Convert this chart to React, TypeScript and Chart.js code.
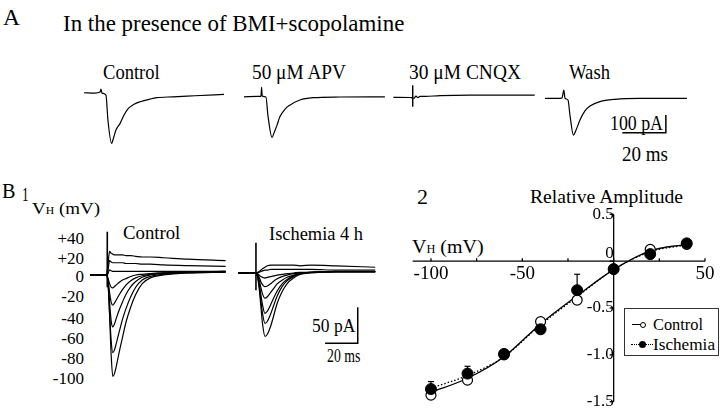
import React, { useEffect, useLayoutEffect, useRef } from 'react';
import { Chart, registerables } from 'chart.js';

Chart.register(...registerables);

const FONT = "'Liberation Serif', 'DejaVu Serif', serif";

// ---------------- Panel A data (time in ms from trace start, current in pA) ----------------
const ctrlA_t = [0, 5, 7.4, 7.8, 8.3, 10.1, 11.0, 12.7, 13.3, 14.7, 16.6, 18.4, 20.4, 23, 25.8, 30.3, 33.5, 40.9, 51, 64.4];
const ctrlA_i = [13, 11, 17, 34, 11, 0, -141, -273, -254, -198, -160, -113, -75, -52, -38, -23, -15, -10, -4, 4];
const apvA_t = [0, 6.4, 7.8, 8.1, 8.4, 10.1, 11.0, 12.9, 13.8, 15.2, 16.5, 18.9, 21.1, 25.7, 31.7, 44.1, 64.8];
const apvA_i = [-10, -8, -8, 44, -6, -11, -113, -239, -215, -170, -123, -79, -57, -28, -15, -11, -10];
const cnqxA_t = [0, 7.7, 9.5, 10.4, 11.3, 12.3, 14.6, 21.4, 35.3, 65];
const cnqxA_i = [-13, -14, -17, -6, -14, -8, -8, -3, 0, 0];
const cnqxArtifact_t = 8.9;
const cnqxArtifact_i = [56, -66];
const washA_t = [0, 7.8, 8.7, 9.2, 10.6, 11.5, 13.1, 14.3, 16.1, 18.4, 20.7, 25.3, 32.2, 43.7, 65.3];
const washA_i = [-19, -17, 28, -17, -28, -113, -226, -198, -141, -90, -62, -37, -24, -19, -19];
const traceStartA = [1.84, 75.4, 144.1, 213.8]; // ms along panel A
const scaleBarA = { t: 249.4, i: -212.8, dt: 20, di: 100 }; // 20 ms, 100 pA

// ---------------- Panel B1 data ----------------
const b1CtrlT = [0, 10, 11, 12, 13, 14, 15, 16, 18, 20, 22, 25, 28, 32, 37, 45, 60, 83];
const b1CtrlP40 = [0, 0, 14, 33, 30, 29, 28, 28, 28, 28, 27, 27, 26, 25, 25, 24, 22, 20];
const b1CtrlP20 = [0, 0, 6, 20, 18, 17, 17, 17, 17, 17, 16, 16, 16, 15, 15, 14, 13, 12];
const b1Ctrl0 = [0, 0, 2, 7, 6, 5, 5, 5, 5, 5, 5, 5, 5, 5, 5, 5, 5, 5];
const b1CtrlM20 = [0, 0, -4, -12, -17, -18, -16, -14, -10, -7, -5, -2, 0, 1, 2, 3, 4, 4];
const b1CtrlM40 = [0, 0, -6, -24, -38, -42, -39, -35, -27, -20, -14, -8, -4, -1, 1, 3, 4, 5];
const b1CtrlM60 = [0, 0, -8, -38, -64, -72, -68, -61, -48, -37, -27, -16, -9, -3, 0, 2, 4, 5];
const b1CtrlM80 = [0, 0, -10, -52, -92, -108, -104, -96, -78, -61, -47, -30, -17, -7, -2, 1, 3, 4];
const b1CtrlM100 = [0, 0, -8, -55, -112, -141, -137, -128, -106, -86, -66, -44, -27, -12, -4, 0, 3, 4];
const b1CtrlArtifact = { t: 10.6, top: 60, bottom: -17 };

const b1IschT = [0, 11, 12, 13, 14, 15, 16.5, 18, 20, 22, 24, 27, 30, 34, 38, 45, 60, 84];
const b1IschP40 = [0, 0, 1, 2, 4, 6, 8, 10, 11, 11, 11, 11, 11, 11, 10, 11, 10, 8];
const b1IschP20 = [0, 0, 0, 1, 2, 3, 4, 4, 5, 5, 5, 5, 5, 5, 5, 5, 4, 4];
const b1Isch0 = [0, 0, -1, -3, -5, -6, -7, -6, -5, -4, -3, -2, -1, 0, 1, 1, 2, 2];
const b1IschM20 = [0, 0, -2, -6, -12, -16, -19, -18, -15, -11, -8, -5, -3, -1, 0, 1, 2, 2];
const b1IschM40 = [0, 0, -3, -10, -20, -29, -35, -33, -27, -21, -15, -10, -6, -3, -1, 1, 2, 2];
const b1IschM60 = [0, 0, -4, -14, -30, -44, -56, -53, -44, -34, -25, -15, -9, -4, -1, 1, 2, 2];
const b1IschM80 = [0, 0, -5, -18, -38, -56, -70, -67, -57, -44, -32, -19, -11, -5, -1, 1, 2, 2];
const b1IschM100 = [0, 0, -6, -22, -46, -70, -88, -85, -74, -58, -42, -26, -15, -7, -2, 0, 2, 2];
const b1IschArtifact = { t: 11.0, top: 42, bottom: -24 };
const b1Start = { control: 1.2, ischemia: 91.8 }; // ms along panel B1
const b1IschBaseline = 2.8; // pA
const scaleBarB1 = { t: 145.1, i: -94.9, dt: 20, di: 50 }; // 20 ms, 50 pA
const b1VhLabels = ['+40', '+20', '0', '-20', '-40', '-60', '-80', '-100'];

// ---------------- Panel B2 data ----------------
const VH = [-100, -80, -60, -40, -20, 0, 20, 40];
const controlAmp = [-1.43, -1.27, -1.0, -0.645, -0.415, -0.085, 0.125, 0.18];
const ischemiaAmp = [-1.365, -1.2, -0.99, -0.727, -0.31, -0.085, 0.075, 0.19];
const ischemiaErrUp = [0.08, 0.078, 0, 0, 0.17, 0, 0, 0];
const controlFit = [-1.4, -1.25, -1.02, -0.67, -0.37, -0.09, 0.11, 0.18];
const ischemiaFit = [-1.355, -1.22, -1.02, -0.68, -0.38, -0.09, 0.1, 0.175];
const xTickLabels = [-100, -50, 0, 50];
const xTickMarks = [-100, -75, -50, -25, 0, 25, 50];
const yTicks = [-1.5, -1, -0.5, 0, 0.5];

// ---------------- helpers ----------------
function traceDs(ts: number[], vals: number[], dt: number, di: number) {
  return {
    data: ts.map((t, k) => ({ x: t + dt, y: vals[k] + di })),
    showLine: true,
    borderColor: '#000',
    borderWidth: 1.2,
    pointRadius: 0,
    cubicInterpolationMode: 'monotone',
    fill: false,
  };
}
function segDs(pts: { x: number; y: number }[], w = 1.4) {
  return { data: pts, showLine: true, borderColor: '#000', borderWidth: w, pointRadius: 0, tension: 0, fill: false };
}
function traceOptions(xmax: number, ymin: number, ymax: number) {
  return {
    responsive: false,
    animation: false,
    devicePixelRatio: 1,
    events: [],
    layout: { padding: 0 },
    plugins: { legend: { display: false }, tooltip: { enabled: false } },
    scales: {
      x: { type: 'linear', display: false, min: 0, max: xmax },
      y: { type: 'linear', display: false, min: ymin, max: ymax },
    },
  };
}

function ChartCanvas({ left, top, width, height, make }: any) {
  const ref = useRef<HTMLCanvasElement>(null);
  useEffect(() => {
    const chart = new Chart(ref.current as HTMLCanvasElement, make());
    return () => chart.destroy();
  }, []);
  return (
    <canvas
      ref={ref}
      width={width}
      height={height}
      style={{ position: 'absolute', left, top, width, height }}
    />
  );
}

function Label({ x0, x1, r, b, s, children }: any) {
  const ref = useRef<HTMLSpanElement>(null);
  useLayoutEffect(() => {
    const el = ref.current;
    if (!el || x1 === undefined) return;
    el.style.transform = 'none';
    const w = el.getBoundingClientRect().width;
    if (w > 0) el.style.transform = `scaleX(${(x1 - x0) / w})`;
  }, []);
  const style: any = {
    position: 'absolute',
    top: b - 0.8375 * s,
    fontSize: s,
    lineHeight: `${s}px`,
    fontFamily: FONT,
    whiteSpace: 'nowrap',
    transformOrigin: 'left top',
    color: '#000',
  };
  if (r !== undefined) style.right = 720 - r;
  else style.left = x0;
  return (
    <span ref={ref} style={style}>
      {children}
    </span>
  );
}

const VhText = () => (
  <>
    V<span style={{ fontSize: '0.62em', lineHeight: 0 }}>H</span> (mV)
  </>
);

// ---------------- chart configs ----------------
function makePanelA() {
  const [o1, o2, o3, o4] = traceStartA;
  const sb = scaleBarA;
  return {
    type: 'scatter',
    data: {
      datasets: [
        traceDs(ctrlA_t, ctrlA_i, o1, 0),
        traceDs(apvA_t, apvA_i, o2, 0),
        traceDs(cnqxA_t, cnqxA_i, o3, 0),
        segDs(cnqxArtifact_i.map((i) => ({ x: o3 + cnqxArtifact_t, y: i }))),
        traceDs(washA_t, washA_i, o4, 0),
        segDs([
          { x: sb.t + sb.dt, y: sb.i + sb.di },
          { x: sb.t + sb.dt, y: sb.i },
          { x: sb.t, y: sb.i },
        ], 1.5),
      ],
    },
    options: traceOptions(280.5, -310.5, 85),
  };
}

function makePanelB1() {
  const c = b1Start.control;
  const i = b1Start.ischemia;
  const base = b1IschBaseline;
  const sb = scaleBarB1;
  const ctrl = [b1CtrlP40, b1CtrlP20, b1Ctrl0, b1CtrlM20, b1CtrlM40, b1CtrlM60, b1CtrlM80, b1CtrlM100];
  const isch = [b1IschP40, b1IschP20, b1Isch0, b1IschM20, b1IschM40, b1IschM60, b1IschM80, b1IschM100];
  return {
    type: 'scatter',
    data: {
      datasets: [
        ...ctrl.map((v) => traceDs(b1CtrlT, v, c, 0)),
        segDs([
          { x: c + b1CtrlArtifact.t, y: b1CtrlArtifact.top },
          { x: c + b1CtrlArtifact.t, y: b1CtrlArtifact.bottom },
        ], 1.6),
        ...isch.map((v) => traceDs(b1IschT, v, i, base)),
        segDs([
          { x: i + b1IschArtifact.t, y: b1IschArtifact.top + base },
          { x: i + b1IschArtifact.t, y: b1IschArtifact.bottom + base },
        ], 1.6),
        segDs([
          { x: sb.t + sb.dt, y: sb.i + sb.di },
          { x: sb.t + sb.dt, y: sb.i },
          { x: sb.t, y: sb.i },
        ], 1.5),
      ],
    },
    options: traceOptions(177.5, -150, 65.3),
  };
}

const b2Decor = {
  id: 'b2Decor',
  beforeDatasetsDraw(chart: any) {
    const { ctx, chartArea, scales } = chart;
    const x = scales.x;
    const y = scales.y;
    const x0 = x.getPixelForValue(0);
    const y0 = y.getPixelForValue(0);
    ctx.save();
    ctx.strokeStyle = '#000';
    ctx.lineWidth = 1.3;
    const line = (a: number, b: number, c: number, d: number) => {
      ctx.beginPath();
      ctx.moveTo(a, b);
      ctx.lineTo(c, d);
      ctx.stroke();
    };
    line(chartArea.left, y0, chartArea.right, y0);
    line(x0, chartArea.top, x0, chartArea.bottom);
    xTickMarks.forEach((v) => {
      const p = x.getPixelForValue(v);
      line(p, y0, p, y0 - 3);
    });
    yTicks.forEach((v) => {
      const p = y.getPixelForValue(v);
      line(x0 - 4, p, x0, p);
    });
    ctx.lineWidth = 1.2;
    VH.forEach((v, k) => {
      const e = ischemiaErrUp[k];
      if (!e) return;
      const px = x.getPixelForValue(v);
      const p0 = y.getPixelForValue(ischemiaAmp[k]);
      const p1 = y.getPixelForValue(ischemiaAmp[k] + e);
      line(px, p0, px, p1);
      line(px - 3, p1, px + 3, p1);
    });
    ctx.restore();
  },
};

function makePanelB2() {
  const pts = (ys: number[]) => VH.map((v, k) => ({ x: v, y: ys[k] }));
  return {
    type: 'scatter',
    data: {
      datasets: [
        {
          label: 'Ischemia',
          data: pts(ischemiaAmp),
          showLine: false,
          pointRadius: 5.5,
          pointBackgroundColor: '#000',
          pointBorderColor: '#000',
          pointBorderWidth: 1,
          order: 0,
        },
        {
          label: 'Control',
          data: pts(controlAmp),
          showLine: false,
          pointRadius: 5,
          pointBackgroundColor: '#fff',
          pointBorderColor: '#000',
          pointBorderWidth: 1.2,
          order: 1,
        },
        {
          label: 'Ischemia fit',
          data: pts(ischemiaFit),
          showLine: true,
          borderColor: '#000',
          borderWidth: 1.3,
          borderDash: [1.5, 2],
          pointRadius: 0,
          cubicInterpolationMode: 'monotone',
          order: 2,
        },
        {
          label: 'Control fit',
          data: pts(controlFit),
          showLine: true,
          borderColor: '#000',
          borderWidth: 1.3,
          pointRadius: 0,
          cubicInterpolationMode: 'monotone',
          order: 3,
        },
      ],
    },
    options: {
      responsive: false,
      animation: false,
      devicePixelRatio: 1,
      events: [],
      layout: { padding: { left: 32.7, right: 15, top: 34.3, bottom: 28.3 } },
      plugins: { legend: { display: false }, tooltip: { enabled: false } },
      scales: {
        x: {
          type: 'linear',
          min: -110,
          max: 50,
          position: { y: 0 },
          grid: { display: false, drawTicks: false },
          border: { display: false },
          afterBuildTicks: (s: any) => {
            s.ticks = xTickLabels.map((v) => ({ value: v }));
          },
          ticks: {
            autoSkip: false,
            maxRotation: 0,
            padding: 1,
            color: '#000',
            font: { family: FONT, size: 19 },
            callback: (v: number) => (v === 0 ? '' : String(v)),
          },
        },
        y: {
          type: 'linear',
          min: -1.5,
          max: 0.5,
          position: { x: 0 },
          grid: { display: false, drawTicks: false },
          border: { display: false },
          afterBuildTicks: (s: any) => {
            s.ticks = yTicks.map((v) => ({ value: v }));
          },
          ticks: {
            autoSkip: false,
            padding: 5,
            color: '#000',
            font: { family: FONT, size: 17, lineHeight: 0.9 },
            callback: (v: number) => (v === 0 ? ['0', ''] : v.toFixed(1)),
          },
        },
      },
    },
    plugins: [b2Decor],
  };
}

// ---------------- App ----------------
export default function App() {
  const b1LabelBaselines = [244, 264, 282.5, 302.5, 324, 344, 364, 384];
  return (
    <div
      style={{
        position: 'absolute',
        left: 0,
        top: 0,
        width: 720,
        height: 412,
        background: '#fff',
        overflow: 'hidden',
      }}
    >
      {/* Panel A */}
      <Label x0={3} x1={20} b={25} s={23}>A</Label>
      <Label x0={62.7} x1={404} b={31.7} s={23}>In the presence of BMI+scopolamine</Label>
      <Label x0={103.3} x1={160} b={79.5} s={21}>Control</Label>
      <Label x0={252} x1={346} b={79.5} s={21}>50 μM APV</Label>
      <Label x0={409} x1={521} b={79.5} s={21}>30 μM CNQX</Label>
      <Label x0={569} x1={610} b={79.5} s={21}>Wash</Label>
      <Label x0={610} x1={663} b={130} s={20}>100 pA</Label>
      <Label x0={621.5} x1={667.5} b={161} s={20}>20 ms</Label>
      <ChartCanvas left={80} top={80} width={610} height={70} make={makePanelA} />

      {/* Panel B1 */}
      <Label x0={2} x1={15.5} b={198} s={20}>B</Label>
      <Label x0={21.7} x1={28.3} b={201.5} s={18}>1</Label>
      <Label x0={32} x1={100} b={214.3} s={17}><VhText /></Label>
      {b1VhLabels.map((t, k) => (
        <Label key={t} r={84} b={b1LabelBaselines[k]} s={17}>{t}</Label>
      ))}
      <Label x0={122.7} x1={180} b={238.5} s={19}>Control</Label>
      <Label x0={269.3} x1={363.3} b={240} s={19}>Ischemia 4 h</Label>
      <Label x0={311.7} x1={355} b={332.5} s={18}>50 pA</Label>
      <Label x0={326.7} x1={360} b={361.7} s={18}>20 ms</Label>
      <ChartCanvas left={88} top={228} width={290} height={155} make={makePanelB1} />

      {/* Panel B2 */}
      <Label x0={417} x1={428} b={204} s={20}>2</Label>
      <Label x0={530} x1={683} b={203} s={19}>Relative Amplitude</Label>
      <Label x0={411.7} x1={483.3} b={253.3} s={19}><VhText /></Label>
      <ChartCanvas left={380} top={180} width={340} height={250} make={makePanelB2} />

      {/* Legend */}
      <div
        style={{
          position: 'absolute',
          left: 624,
          top: 308,
          width: 95,
          height: 48,
          border: '1.5px solid #333',
          boxSizing: 'border-box',
          background: '#fff',
        }}
      />
      <div style={{ position: 'absolute', left: 632, top: 324, width: 10, borderTop: '1.2px solid #000' }} />
      <div
        style={{
          position: 'absolute',
          left: 640,
          top: 321.5,
          width: 6,
          height: 6,
          borderRadius: '50%',
          border: '1px solid #000',
          background: '#fff',
          boxSizing: 'border-box',
        }}
      />
      <div style={{ position: 'absolute', left: 631, top: 344, width: 22, borderTop: '1.3px dotted #000' }} />
      <div
        style={{
          position: 'absolute',
          left: 639,
          top: 341,
          width: 7,
          height: 7,
          borderRadius: '50%',
          background: '#000',
        }}
      />
      <Label x0={653} x1={703} b={330} s={17}>Control</Label>
      <Label x0={653} x1={715} b={350} s={17}>Ischemia</Label>
    </div>
  );
}
